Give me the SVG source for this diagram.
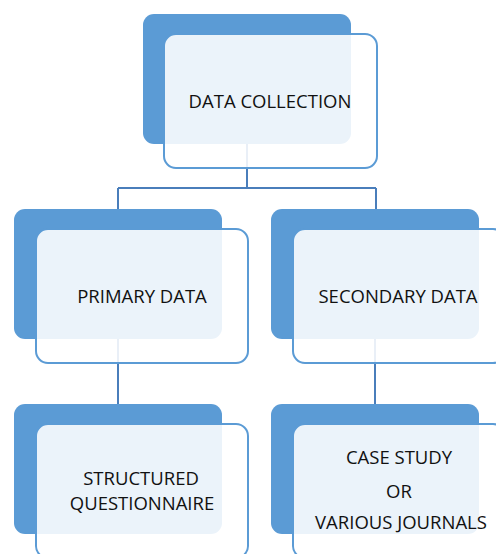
<svg xmlns="http://www.w3.org/2000/svg" width="496" height="554" viewBox="0 0 496 554">
<style>
.back{fill:#5B9BD5}
.front{fill:#FFFFFF;fill-opacity:0.88;stroke:#5B9BD5;stroke-width:2}
.lbl{font-family:"Open Sans","Noto Sans",sans-serif;font-size:18.5px;fill:#111111;text-anchor:middle}
.conn{fill:none;stroke:#4A7EBB;stroke-width:2}
</style>
<rect width="496" height="554" fill="#FFFFFF"/>
<g id="connectors">
<path class="conn" d="M247,144 V188 M118,188 H376 M118,188 V209 M376,188 V209"/>
<path class="conn" d="M118,339 V404 M375,339 V404"/>
</g>
<g id="node-data-collection">
<rect class="back" x="143" y="14" width="208" height="130" rx="11"/>
<rect class="front" x="164" y="34" width="213" height="134" rx="12"/>
<text class="lbl" x="270" y="108">DATA COLLECTION</text>
</g>
<g id="node-primary">
<rect class="back" x="14" y="209" width="208" height="130" rx="11"/>
<rect class="front" x="36" y="229" width="212" height="134" rx="12"/>
<text class="lbl" x="142" y="303">PRIMARY DATA</text>
</g>
<g id="node-secondary">
<rect class="back" x="271" y="209" width="208" height="130" rx="11"/>
<rect class="front" x="293" y="229" width="212" height="134" rx="12"/>
<text class="lbl" x="398" y="303">SECONDARY DATA</text>
</g>
<g id="node-structured">
<rect class="back" x="14" y="404" width="208" height="130" rx="11"/>
<rect class="front" x="36" y="424" width="212" height="134" rx="12"/>
<text class="lbl" x="141" y="485">STRUCTURED</text>
<text class="lbl" x="142" y="510">QUESTIONNAIRE</text>
</g>
<g id="node-case-study">
<rect class="back" x="271" y="404" width="208" height="130" rx="11"/>
<rect class="front" x="293" y="424" width="212" height="134" rx="12"/>
<text class="lbl" x="399" y="464">CASE STUDY</text>
<text class="lbl" x="399" y="498">OR</text>
<text class="lbl" x="401" y="529">VARIOUS JOURNALS</text>
</g>
</svg>
